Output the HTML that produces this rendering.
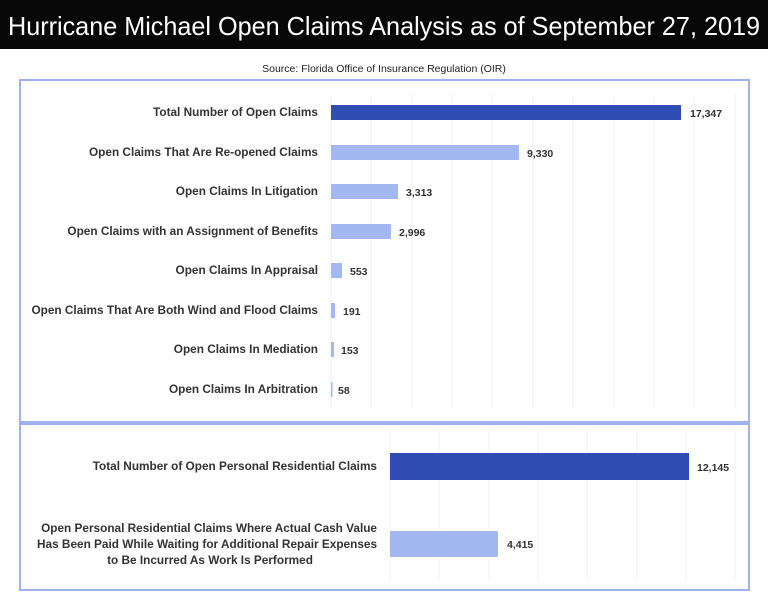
<!DOCTYPE html>
<html><head><style>
body{margin:0;width:768px;height:609px;background:#fff;overflow:hidden;font-family:"Liberation Sans",sans-serif}
</style></head><body>
<svg width="768" height="609" xmlns="http://www.w3.org/2000/svg" font-family="Liberation Sans, sans-serif">
<rect x="0" y="0" width="768" height="49" fill="#080808"/>
<text x="384" y="35" fill="#fff" font-size="26" text-anchor="middle" textLength="752" lengthAdjust="spacingAndGlyphs">Hurricane Michael Open Claims Analysis as of September 27, 2019</text>
<text x="384" y="72" font-size="10.5" text-anchor="middle" fill="#222">Source: Florida Office of Insurance Regulation (OIR)</text>
<rect x="20" y="80" width="729" height="342" fill="none" stroke="#9fb2ee" stroke-width="2"/>
<rect x="20" y="424" width="729" height="166" fill="none" stroke="#9fb2ee" stroke-width="2"/>
<g stroke="#f0f0f3" stroke-width="1">
<line x1="331" y1="94" x2="331" y2="408"/><line x1="371" y1="94" x2="371" y2="408"/><line x1="412" y1="94" x2="412" y2="408"/><line x1="452" y1="94" x2="452" y2="408"/><line x1="492" y1="94" x2="492" y2="408"/><line x1="533" y1="94" x2="533" y2="408"/><line x1="573" y1="94" x2="573" y2="408"/><line x1="614" y1="94" x2="614" y2="408"/><line x1="654" y1="94" x2="654" y2="408"/><line x1="694" y1="94" x2="694" y2="408"/><line x1="735" y1="94" x2="735" y2="408"/>
<line x1="390" y1="430" x2="390" y2="582"/><line x1="439" y1="430" x2="439" y2="582"/><line x1="489" y1="430" x2="489" y2="582"/><line x1="538" y1="430" x2="538" y2="582"/><line x1="587" y1="430" x2="587" y2="582"/><line x1="637" y1="430" x2="637" y2="582"/><line x1="686" y1="430" x2="686" y2="582"/><line x1="735" y1="430" x2="735" y2="582"/>
</g>
<g font-size="11.8" font-weight="bold" fill="#333">
<rect x="331" y="105" width="350" height="15" fill="#2f4db3"/>
<text x="318" y="116" text-anchor="end">Total Number of Open Claims</text><text x="690" y="117" font-size="10.5">17,347</text>
<rect x="331" y="145" width="188" height="15" fill="#a3b7f1"/>
<text x="318" y="156" text-anchor="end">Open Claims That Are Re-opened Claims</text><text x="527" y="157" font-size="10.5">9,330</text>
<rect x="331" y="184" width="67" height="15" fill="#a3b7f1"/>
<text x="318" y="195" text-anchor="end">Open Claims In Litigation</text><text x="406" y="196" font-size="10.5">3,313</text>
<rect x="331" y="224" width="60" height="15" fill="#a3b7f1"/>
<text x="318" y="235" text-anchor="end">Open Claims with an Assignment of Benefits</text><text x="399" y="236" font-size="10.5">2,996</text>
<rect x="331" y="263" width="11" height="15" fill="#a3b7f1"/>
<text x="318" y="274" text-anchor="end">Open Claims In Appraisal</text><text x="350" y="275" font-size="10.5">553</text>
<rect x="331" y="303" width="4" height="15" fill="#a3b7f1"/>
<text x="318" y="314" text-anchor="end">Open Claims That Are Both Wind and Flood Claims</text><text x="343" y="315" font-size="10.5">191</text>
<rect x="331" y="342" width="3" height="15" fill="#a3b7f1"/>
<text x="318" y="353" text-anchor="end">Open Claims In Mediation</text><text x="341" y="354" font-size="10.5">153</text>
<rect x="331" y="382" width="1.5" height="15" fill="#a3b7f1"/>
<text x="318" y="393" text-anchor="end">Open Claims In Arbitration</text><text x="338" y="394" font-size="10.5">58</text>
<rect x="390" y="453" width="299" height="27" fill="#2f4db3"/>
<text x="377" y="470" text-anchor="end">Total Number of Open Personal Residential Claims</text><text x="697" y="471" font-size="10.5">12,145</text>
<rect x="390" y="531" width="108" height="26" fill="#a3b7f1"/>
<text x="377" y="532" text-anchor="end">Open Personal Residential Claims Where Actual Cash Value</text>
<text x="377" y="548" text-anchor="end">Has Been Paid While Waiting for Additional Repair Expenses</text>
<text x="210" y="564" text-anchor="middle">to Be Incurred As Work Is Performed</text>
<text x="507" y="548" font-size="10.5">4,415</text>
</g>
</svg>
</body></html>
